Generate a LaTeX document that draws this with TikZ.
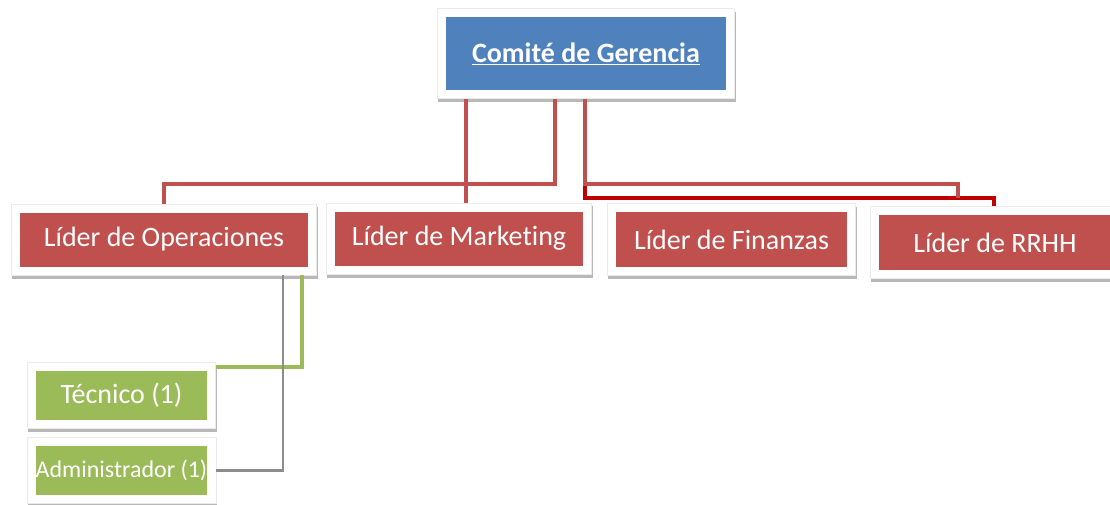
\documentclass[tikz,border=0pt]{standalone}
\usepackage{fontspec}
\setmainfont[Ligatures={NoCommon}]{Carlito}
\usetikzlibrary{shadows,fit,backgrounds,calc}
\definecolor{cblue}{HTML}{4F81BD}
\definecolor{cred}{HTML}{C0504D}
\definecolor{cgreen}{HTML}{9BBB59}
\definecolor{cdark}{HTML}{C00000}
\definecolor{cgray}{HTML}{A5A5A5}
\begin{document}
\begin{tikzpicture}[x=1pt,y=-1pt,
  box/.style={rectangle, inner sep=0pt, text=white, font=\fontsize{28}{30}\selectfont},
  redbox/.style={box, fill=cred, minimum height=54pt},
  greenbox/.style={box, fill=cgreen, minimum width=171pt, minimum height=49pt},
  frame/.style={rectangle, fill=white, draw=black!8, line width=0.5pt, inner sep=8.5pt,
    drop shadow={shadow xshift=1pt, shadow yshift=-3.5pt, fill=black, opacity=0.28}},
  redline/.style={draw=cred, line width=4.6pt},
  darkline/.style={draw=cdark, line width=3.3pt},
  greenline/.style={draw=cgreen, line width=4.4pt},
  grayline/.style={draw=cgray!85!black, line width=2.6pt}]
\useasboundingbox (0,0) rectangle (1110,505);
% boxes
\node[box, fill=cblue, minimum width=280pt, minimum height=73pt,
      font=\bfseries\fontsize{28}{30}\selectfont] (top) at (586,53.5) {\underline{Comité de Gerencia}};
\node[redbox, minimum width=288pt] (op) at (164,239.5) {Líder de Operaciones};
\node[redbox, minimum width=248pt] (mkt) at (459,238.5) {Líder de Market\kern0pt ing};
\node[redbox, minimum width=231pt, minimum height=55pt] (fin) at (731.5,239.5) {Líder de Finanzas};
\node[redbox, minimum width=232pt, minimum height=55pt] (rr) at (995,242.5) {Líder de RRHH};
\node[greenbox] (tec) at (121.5,395.5) {Técnico (1)};
\node[greenbox, font=\fontsize{24}{26}\selectfont] (adm) at (121.5,470.5) {Administrador (1)};
% frames
\begin{scope}[on background layer]
\node[frame, fit=(top)] (topf) {};
\node[frame, fit=(op)] (opf) {};
\node[frame, fit=(mkt)] (mktf) {};
\node[frame, fit=(fin)] (finf) {};
\node[frame, fit=(rr)] (rrf) {};
\node[frame, fit=(tec)] (tecf) {};
\node[frame, fit=(adm)] (admf) {};
\end{scope}
% helper coordinates
\coordinate (x1) at (466,0);
\coordinate (x2) at (555,0);
\coordinate (x3) at (585,0);
\coordinate (x5) at (994,0);
\coordinate (yh) at (0,184);
\coordinate (yd) at (0,198);
\coordinate (e4) at (958,198);
\coordinate (g1) at (302,0);
\coordinate (g2) at (283,0);
\coordinate (yg) at (0,367);
% connectors
\draw[darkline] (topf.south -| x3) -- (x3 |- yd) -- (x5 |- yd) -- (rrf.north -| x5);
\draw[redline] (topf.south -| x1) -- (mktf.north -| x1);
\draw[redline] (topf.south -| x2) -- (x2 |- yh) -- (opf.north |- yh) -- (opf.north);
\draw[redline] (topf.south -| x3) -- (x3 |- yh) -- (e4 |- yh) -- (e4);
\draw[greenline] (opf.south -| g1) -- (g1 |- yg) -- (tecf.east |- yg);
\draw[grayline] (opf.south -| g2) -- (g2 |- admf.east) -- (admf.east);
\end{tikzpicture}
\end{document}
